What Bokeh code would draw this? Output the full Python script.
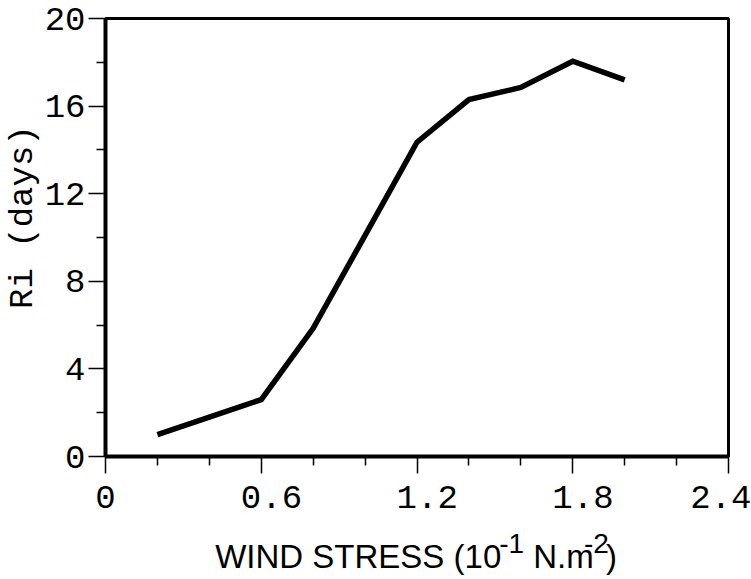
from bokeh.plotting import figure
from bokeh.layouts import column
from bokeh.models import Range1d, FixedTicker, Label
from bokeh.embed import file_html
from bokeh.resources import INLINE

# ---- data ----
wind_stress = [0.2, 0.4, 0.6, 0.8, 1.0, 1.2, 1.4, 1.6, 1.8, 2.0]
ri_days = [1.0, 1.8, 2.6, 5.85, 10.1, 14.35, 16.3, 16.85, 18.05, 17.2]

x_major_ticks = [0, 0.6, 1.2, 1.8, 2.4]
x_minor_ticks = [0.2, 0.4, 0.8, 1.0, 1.4, 1.6, 2.0, 2.2]
x_tick_labels = ["0", "0.6", "1.2", "1.8", "2.4"]
y_major_ticks = [0, 4, 8, 12, 16, 20]
y_minor_ticks = [2, 6, 10, 14, 18]
y_tick_labels = ["0", "4", "8", "12", "16", "20"]

# ---- layout ----
W, H = 751, 579
L, R, T, B = 103, 728, 18, 456
BOTTOM_PAD = 65
H1 = B + BOTTOM_PAD
H2 = H - H1

mono = "Liberation Mono"
sans = "Liberation Sans"

p = figure(width=W, height=H1, output_backend="svg", toolbar_location=None,
           x_range=Range1d(0, 2.4), y_range=Range1d(0, 20),
           min_border_left=L, min_border_right=W - R,
           min_border_top=T, min_border_bottom=BOTTOM_PAD)
p.background_fill_color = "white"
p.border_fill_color = "white"
p.outline_line_color = "black"
p.outline_line_width = 3
p.xgrid.visible = False
p.ygrid.visible = False

xa = p.xaxis[0]
ya = p.yaxis[0]
xa.ticker = FixedTicker(ticks=x_major_ticks, minor_ticks=x_minor_ticks)
ya.ticker = FixedTicker(ticks=y_major_ticks, minor_ticks=y_minor_ticks)
xa.major_label_overrides = {t: (("\u00a0" + s) if len(s) > 1 else s)
                            for t, s in zip(x_major_ticks, x_tick_labels)}
ya.major_label_overrides = {t: s for t, s in zip(y_major_ticks, y_tick_labels)}

for ax in (xa, ya):
    ax.axis_line_width = 4
    ax.axis_line_color = "black"
    ax.major_tick_line_width = 1.5
    ax.minor_tick_line_width = 1.5
    ax.major_tick_line_color = "black"
    ax.minor_tick_line_color = "black"
    ax.major_tick_out = 17
    ax.major_tick_in = 0
    ax.minor_tick_out = 9
    ax.minor_tick_in = 0
    ax.major_label_text_font = mono
    ax.major_label_text_font_size = "34px"
    ax.major_label_text_color = "black"
xa.major_label_standoff = 6
ya.major_label_standoff = 3

ya.axis_label = "\u00a0\u00a0Ri (days)"
ya.axis_label_text_font = mono
ya.axis_label_text_font_size = "34px"
ya.axis_label_text_font_style = "normal"
ya.axis_label_text_color = "black"
ya.axis_label_standoff = 0

p.line(wind_stress, ri_days, line_width=5.5, line_color="black",
       line_join="miter", line_cap="butt")

# ---- strip below with the x-axis title (frame aligned with the plot above) ----
q = figure(width=W, height=H2, output_backend="svg", toolbar_location=None,
           title=None, x_axis_type=None, y_axis_type=None,
           x_range=Range1d(L, R), y_range=Range1d(0, H2),
           min_border=0, min_border_left=L, min_border_right=W - R,
           min_border_top=0, min_border_bottom=0)
q.grid.visible = False
q.outline_line_color = None
q.background_fill_color = "white"
q.border_fill_color = "white"


def ly(py):
    # canvas pixel row -> y inside the strip (upwards)
    return H - py


# (text, x px, y px of anchor, font size, alignment)
pieces = [
    ("WIND STRESS (10", 500, 556, "33px", "right"),
    ("-1", 498, 543, "28px", "left"),
    ("N.m", 532, 556, "33px", "left"),
    ("-2", 583, 543, "28px", "left"),
    (")", 605, 556, "33px", "left"),
]
for txt, px, py, size, align in pieces:
    q.add_layout(Label(x=px, y=ly(py), text=txt, text_align=align,
                       text_baseline="alphabetic", text_font=sans,
                       text_font_size=size, text_color="black"))

layout = column(p, q, spacing=0)
open("out.html", "w").write(file_html(layout, INLINE))
